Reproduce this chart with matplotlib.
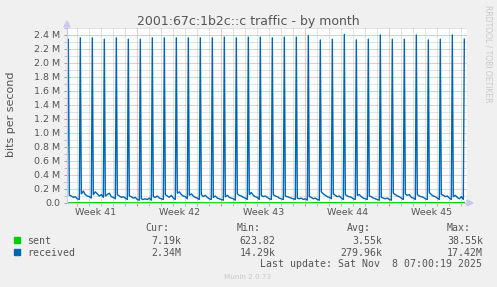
import matplotlib
matplotlib.use("Agg")
import matplotlib.pyplot as plt
from matplotlib.patches import Rectangle, Polygon
import numpy as np

# ---- data (values in Mbit/s) ----
received_peaks = [2.34, 2.36, 2.36, 2.34, 2.36, 2.34, 2.34, 2.36, 2.36, 2.36,
                  2.36, 2.36, 2.36, 2.37, 2.36, 2.37, 2.37, 2.36, 2.37, 2.37,
                  2.39, 2.33, 2.34, 2.41, 2.33, 2.34, 2.40, 2.34, 2.34, 2.40,
                  2.33, 2.34, 2.40, 2.34]
received_start = 0.06
received_base = [
    [0.11, 0.10, 0.08, 0.09, 0.06, 0.05],
    [0.13, 0.17, 0.12, 0.10, 0.09, 0.07],
    [0.12, 0.16, 0.13, 0.10, 0.12, 0.08],
    [0.10, 0.12, 0.14, 0.09, 0.08, 0.06],
    [0.12, 0.10, 0.08, 0.09, 0.07, 0.05],
    [0.10, 0.09, 0.07, 0.08, 0.05, 0.04],
    [0.06, 0.05, 0.06, 0.05, 0.07, 0.04],
    [0.09, 0.08, 0.10, 0.07, 0.06, 0.05],
    [0.12, 0.10, 0.08, 0.11, 0.07, 0.05],
    [0.14, 0.16, 0.12, 0.10, 0.09, 0.06],
    [0.11, 0.13, 0.10, 0.08, 0.07, 0.05],
    [0.12, 0.09, 0.11, 0.08, 0.06, 0.05],
    [0.08, 0.10, 0.07, 0.06, 0.05, 0.04],
    [0.09, 0.11, 0.08, 0.07, 0.06, 0.04],
    [0.13, 0.11, 0.10, 0.08, 0.07, 0.05],
    [0.12, 0.15, 0.11, 0.09, 0.08, 0.05],
    [0.11, 0.09, 0.10, 0.08, 0.06, 0.05],
    [0.12, 0.10, 0.09, 0.07, 0.06, 0.05],
    [0.10, 0.09, 0.08, 0.07, 0.06, 0.05],
    [0.07, 0.06, 0.07, 0.05, 0.06, 0.04],
    [0.09, 0.08, 0.06, 0.07, 0.05, 0.04],
    [0.16, 0.13, 0.11, 0.09, 0.08, 0.06],
    [0.13, 0.11, 0.09, 0.10, 0.07, 0.05],
    [0.12, 0.10, 0.09, 0.08, 0.06, 0.05],
    [0.11, 0.12, 0.09, 0.07, 0.06, 0.05],
    [0.10, 0.09, 0.07, 0.06, 0.05, 0.04],
    [0.08, 0.07, 0.06, 0.07, 0.05, 0.04],
    [0.14, 0.12, 0.10, 0.09, 0.07, 0.05],
    [0.13, 0.11, 0.12, 0.08, 0.07, 0.05],
    [0.12, 0.10, 0.09, 0.08, 0.06, 0.05],
    [0.15, 0.12, 0.10, 0.09, 0.07, 0.05],
    [0.12, 0.11, 0.09, 0.10, 0.07, 0.05],
    [0.09, 0.11, 0.08, 0.06, 0.09, 0.05],
]
sent_daily_k = [3, 4, 3, 5, 3, 2, 2, 3, 4, 4, 3, 3, 2, 2, 4, 4, 3, 3, 3, 2,
                2, 5, 4, 3, 3, 3, 2, 4, 4, 3, 5, 4, 3, 7]

week_labels = ["Week 41", "Week 42", "Week 43", "Week 44", "Week 45"]
y_ticks = [0.0, 0.2, 0.4, 0.6, 0.8, 1.0, 1.2, 1.4, 1.6, 1.8, 2.0, 2.2, 2.4]

legend_names = ["sent", "received"]
legend_colors = ["#00cc00", "#0066b3"]
stats_cur = ["7.19k", "2.34M"]
stats_min = ["623.82", "14.29k"]
stats_avg = ["3.55k", "279.96k"]
stats_max = ["38.55k", "17.42M"]

# ---- time layout (days from left edge of graph) ----
first_spike = 0.11
sample_px = np.array([1, 3, 5, 7, 9, 11]) / 12.0
x_days = 400 / 12.0

t = [0.0]
v = [received_start]
for k, peak in enumerate(received_peaks):
    t.append(first_spike + k)
    v.append(peak)
    if k < len(received_base):
        for off, val in zip(sample_px, received_base[k]):
            t.append(first_spike + k + off)
            v.append(val)
t = np.array(t)
v = np.array(v)
ts = first_spike + np.arange(len(sent_daily_k))
sv = np.array(sent_daily_k) / 1000.0

W, H = 497, 287
fig = plt.figure(figsize=(W / 100, H / 100), dpi=100, facecolor="#f0f0f0")
ax = fig.add_axes([67 / W, 1 - 203 / H, 400 / W, 175 / H])
ax.set_facecolor("white")

ax.plot(ts, sv, color="#00cc00", lw=1.0, zorder=3)
ax.plot(t, v, color="#0066b3", lw=1.0, zorder=4)

ax.set_xlim(0, x_days)
ax.set_ylim(0, 2.5)

week_starts = [5.86 + 7 * i for i in range(4)]
days = [0.86 + i for i in range(33)]
ax.set_xticks(week_starts)
ax.set_xticks(days, minor=True)
ax.set_xticklabels([])
ax.set_yticks(y_ticks)
ax.set_yticks(np.arange(0, 2.55, 0.1), minor=True)
ax.set_yticklabels(["0.0" if y == 0 else f"{y:.1f} M" for y in y_ticks],
                   fontsize=6.8, color="#555555")

ax.grid(which="minor", color="#c8c8c8", lw=0.72, linestyle=(0, (1, 1)))
ax.grid(which="major", color="#e89090", lw=0.72, linestyle=(0, (1, 1)))
ax.set_axisbelow(True)
ax.tick_params(which="major", length=2, width=0.7, color="#e08080", pad=3)
ax.tick_params(which="minor", length=2, width=0.7, color="#bbbbbb")
for s in ax.spines.values():
    s.set_visible(False)

for i, lab in enumerate(week_labels):
    ax.text(2.4 + 7 * i, -0.057, lab, transform=ax.get_xaxis_transform(),
            ha="center", va="center", fontsize=6.8, color="#555555")

# axis lines and arrows
axc = "#c8c8f0"
fig.add_artist(plt.Line2D([67 / W, 67 / W], [1 - 203 / H, 1 - 26 / H], color=axc, lw=0.8))
fig.add_artist(plt.Line2D([67 / W, 469 / W], [1 - 203 / H, 1 - 203 / H], color=axc, lw=0.8))
fig.add_artist(Polygon([[64 / W, 1 - 27 / H], [70 / W, 1 - 27 / H], [67 / W, 1 - 21 / H]],
                       closed=True, color=axc, transform=fig.transFigure))
fig.add_artist(Polygon([[467 / W, 1 - 200 / H], [467 / W, 1 - 206 / H], [473 / W, 1 - 203 / H]],
                       closed=True, color=axc, transform=fig.transFigure))

# titles
fig.text(248.5 / W, 1 - 25 / H, "2001:67c:1b2c::c traffic - by month",
         ha="center", va="baseline", fontsize=9, color="#555555")
fig.text(11 / W, 1 - 114.5 / H, "bits per second", rotation=90,
         ha="center", va="center", fontsize=8, color="#555555")
fig.text(488 / W, 1 - 5 / H, "RRDTOOL / TOBI OETIKER", rotation=-90,
         ha="center", va="top", fontsize=5.5, color="#c8c8c8")

# legend block
mono = dict(family="DejaVu Sans Mono", fontsize=7.1, color="#555555")
fig.text(145 / W, 1 - 231 / H, "Cur:", ha="left", va="baseline", **mono)
fig.text(237 / W, 1 - 231 / H, "Min:", ha="left", va="baseline", **mono)
fig.text(347 / W, 1 - 231 / H, "Avg:", ha="left", va="baseline", **mono)
fig.text(447 / W, 1 - 231 / H, "Max:", ha="left", va="baseline", **mono)
for i, name in enumerate(legend_names):
    yb = 244 + 12 * i
    fig.add_artist(Rectangle((14 / W, 1 - (yb - 1.5) / H), 5.5 / W, 5.5 / H,
                             color=legend_colors[i], transform=fig.transFigure))
    fig.text(27 / W, 1 - yb / H, name, ha="left", va="baseline", **mono)
    fig.text(181.5 / W, 1 - yb / H, stats_cur[i], ha="right", va="baseline", **mono)
    fig.text(275.5 / W, 1 - yb / H, stats_min[i], ha="right", va="baseline", **mono)
    fig.text(382 / W, 1 - yb / H, stats_avg[i], ha="right", va="baseline", **mono)
    fig.text(483 / W, 1 - yb / H, stats_max[i], ha="right", va="baseline", **mono)
fig.text(482 / W, 1 - 267 / H, "Last update: Sat Nov  8 07:00:19 2025",
         ha="right", va="baseline", **mono)
fig.text(248 / W, 1 - 279 / H, "Munin 2.0.73", ha="center", va="baseline",
         fontsize=5.2, color="#c8c8c8")

fig.savefig("out.png", dpi=100, facecolor=fig.get_facecolor())
